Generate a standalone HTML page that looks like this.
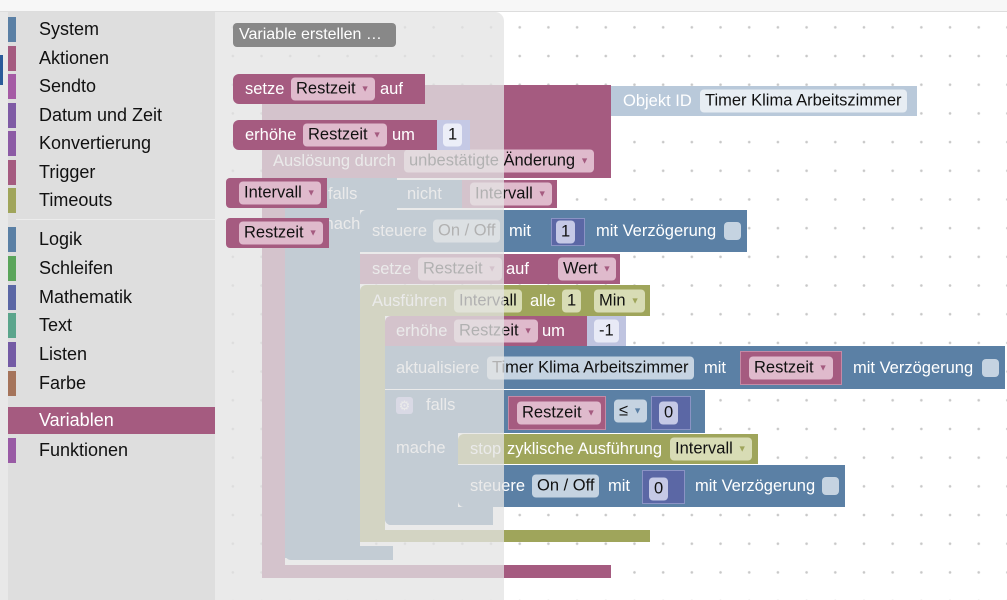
<!DOCTYPE html>
<html><head><meta charset="utf-8"><style>
*{margin:0;padding:0;box-sizing:border-box}
body{width:1007px;height:600px;overflow:hidden;position:relative;font-family:"Liberation Sans",sans-serif;background:#fff}
#ws{position:absolute;left:0;top:12px;width:1007px;height:588px;background-color:#fff;background-image:radial-gradient(circle,#c8c8c8 1px,transparent 1.6px);background-size:28.7px 28.7px;background-position:-11px 1px}
#top{position:absolute;left:0;top:0;width:1007px;height:12px;background:#f7f7f7;border-bottom:1px solid #ddd}
.b{position:absolute;color:#fff;font-size:16.5px;white-space:nowrap}
.t{position:absolute;top:50%;transform:translateY(-50%);line-height:18px}
.f{position:absolute;top:50%;transform:translateY(-50%);height:23px;line-height:23px;padding:0 5px;border-radius:4px;color:#111}
.f i{font-style:normal;font-size:9px;margin-left:5px;vertical-align:2px}
.pk{background:#a55b80}.bl{background:#5b80a5}.ol{background:#9fa55b}.dk{background:#5b67a5}
.fp{background:#dfbacc}.fp i{color:#a55b80}
.fb{background:#c5d3e1}.fb i{color:#5b80a5}
.fo{background:#d8dcb5}.fo i{color:#9fa55b}
.fd{background:#c5c9e6}
.cb{position:absolute;top:50%;transform:translateY(-50%);width:17px;height:18px;border-radius:4px;background:#c5d3e1}
#side{position:absolute;left:0;top:12px;width:215px;height:588px;background:#dedede}
#side .strip{position:absolute;left:0;top:0;width:8px;height:588px;background:#e8e8e8}
.it{position:absolute;left:8px;width:207px;height:27px;font-size:18px;color:#111;line-height:27px}
.it span{position:absolute;left:31px}
.it b{position:absolute;left:0;top:1px;width:8px;height:25px}
#ov{position:absolute;left:215px;top:12px;width:289px;height:588px;background:rgba(228,228,228,0.76);border-top-right-radius:9px}
</style></head><body>
<div id="ws"></div>
<div id="top"></div>

<div class="b pk" style="left:262px;top:85px;width:349px;height:93px;border-radius:6px 0 0 0">
 <span class="t" style="left:11px;top:76px">Auslösung durch</span>
 <span class="f fp" style="left:142px;top:76px">unbestätigte Änderung<i>▼</i></span>
</div>
<div class="b pk" style="left:262px;top:176px;width:23px;height:402px"></div>
<div class="b pk" style="left:262px;top:565px;width:349px;height:13px;border-radius:0 0 0 6px"></div>
<div class="b" style="left:611px;top:86px;width:306px;height:30px;background:#b9c9da">
 <span class="t" style="left:12px">Objekt ID</span>
 <span class="f" style="left:89px;background:#e7edf3">Timer Klima Arbeitszimmer</span>
</div>
<div class="b bl" style="left:285px;top:178px;width:112px;height:32px;border-radius:6px 0 0 0"><span class="t" style="left:43px">falls</span></div>
<div class="b bl" style="left:285px;top:208px;width:75px;height:350px"><span class="t" style="left:35px;top:16px">mache</span></div>
<div class="b bl" style="left:285px;top:546px;width:108px;height:14px;border-radius:0 0 0 6px"></div>
<div class="b bl" style="left:397px;top:180px;width:65px;height:28px"><span class="t" style="left:10px">nicht</span></div>
<div class="b pk" style="left:462px;top:180px;width:95px;height:28px"><span class="f fp" style="left:8px">Intervall<i>▼</i></span></div>

<div class="b bl" style="left:360px;top:210px;width:387px;height:42px;border-radius:6px 0 0 0">
 <span class="t" style="left:12px">steuere</span>
 <span class="f fb" style="left:73px">On / Off</span>
 <span class="t" style="left:149px">mit</span>
 <div class="b dk" style="left:191px;top:8px;width:34px;height:28px;border:1px solid #8a93c4"><span class="f fd" style="left:4px">1</span></div>
 <span class="t" style="left:236px">mit Verzögerung</span>
 <span class="cb" style="left:364px"></span>
</div>
<div class="b pk" style="left:360px;top:254px;width:192px;height:30px">
 <span class="t" style="left:12px">setze</span>
 <span class="f fp" style="left:58px">Restzeit<i>▼</i></span>
 <span class="t" style="left:146px">auf</span>
</div>
<div class="b pk" style="left:552px;top:254px;width:68px;height:30px"><span class="f fp" style="left:6px">Wert<i>▼</i></span></div>
<div class="b ol" style="left:360px;top:285px;width:290px;height:31px;border-radius:6px 0 0 0">
 <span class="t" style="left:12px">Ausführen</span>
 <span class="f fo" style="left:94px">Intervall</span>
 <span class="t" style="left:170px">alle</span>
 <span class="f fo" style="left:202px">1</span>
 <span class="f fo" style="left:234px">Min<i>▼</i></span>
</div>
<div class="b ol" style="left:360px;top:314px;width:25px;height:228px"></div>
<div class="b ol" style="left:360px;top:530px;width:290px;height:12px;border-radius:0 0 0 6px"></div>
<div class="b pk" style="left:385px;top:316px;width:202px;height:30px;border-radius:6px 0 0 0">
 <span class="t" style="left:11px">erhöhe</span>
 <span class="f fp" style="left:69px">Restzeit<i>▼</i></span>
 <span class="t" style="left:157px">um</span>
</div>
<div class="b" style="left:587px;top:316px;width:39px;height:30px;background:#bfc4e0"><span class="f" style="left:7px;background:#e8eaf6">-1</span></div>
<div class="b bl" style="left:385px;top:346px;width:620px;height:43px">
 <span class="t" style="left:11px">aktualisiere</span>
 <span class="f fb" style="left:102px">Timer Klima Arbeitszimmer</span>
 <span class="t" style="left:319px">mit</span>
 <div class="b pk" style="left:355px;top:5px;width:102px;height:34px;border:1px solid #c48aa6"><span class="f fp" style="left:8px">Restzeit<i>▼</i></span></div>
 <span class="t" style="left:468px">mit Verzögerung</span>
 <span class="cb" style="left:597px"></span>
</div>
<div class="b bl" style="left:385px;top:390px;width:320px;height:43px">
 <span style="position:absolute;left:11px;top:7px;width:17px;height:17px;border-radius:3px;background:#b9b9e8;color:#fff;font-size:13px;line-height:17px;text-align:center">⚙</span>
 <span class="t" style="left:41px;top:15px">falls</span>
 <div class="b pk" style="left:123px;top:6px;width:98px;height:34px;border:1px solid #c48aa6"><span class="f fp" style="left:8px">Restzeit<i>▼</i></span></div>
 <span class="f fb" style="left:229px;top:21px">≤<i>▼</i></span>
 <div class="b dk" style="left:266px;top:6px;width:40px;height:34px;border:1px solid #8a93c4"><span class="f fd" style="left:7px">0</span></div>
</div>
<div class="b bl" style="left:385px;top:431px;width:73px;height:94px;border-radius:0 0 0 6px"><span class="t" style="left:11px;top:17px">mache</span></div>
<div class="b bl" style="left:385px;top:507px;width:108px;height:18px;border-radius:0 0 0 6px"></div>
<div class="b ol" style="left:458px;top:434px;width:300px;height:30px;border-radius:6px 0 0 0">
 <span class="t" style="left:12px">stop</span>
 <span class="t" style="left:49px">zyklische Ausführung</span>
 <span class="f fo" style="left:212px">Intervall<i>▼</i></span>
</div>
<div class="b bl" style="left:458px;top:465px;width:387px;height:42px;border-radius:0 0 0 6px">
 <span class="t" style="left:12px">steuere</span>
 <span class="f fb" style="left:74px">On / Off</span>
 <span class="t" style="left:150px">mit</span>
 <div class="b dk" style="left:184px;top:5px;width:43px;height:34px;border:1px solid #8a93c4"><span class="f fd" style="left:6px;top:18px">0</span></div>
 <span class="t" style="left:237px">mit Verzögerung</span>
 <span class="cb" style="left:364px"></span>
</div>

<div id="ov"></div>

<div class="b" style="left:233px;top:23px;width:163px;height:24px;background:#888;border-radius:4px;font-size:16px"><span class="t" style="left:6px">Variable erstellen …</span></div>
<div class="b pk" style="left:233px;top:74px;width:192px;height:30px;border-radius:6px 0 0 6px">
 <span class="t" style="left:12px">setze</span>
 <span class="f fp" style="left:58px">Restzeit<i>▼</i></span>
 <span class="t" style="left:147px">auf</span>
</div>
<div class="b pk" style="left:233px;top:120px;width:204px;height:30px;border-radius:6px 0 0 6px">
 <span class="t" style="left:12px">erhöhe</span>
 <span class="f fp" style="left:70px">Restzeit<i>▼</i></span>
 <span class="t" style="left:159px">um</span>
</div>
<div class="b" style="left:437px;top:120px;width:33px;height:30px;background:#c5c9e5"><span class="f" style="left:6px;background:#eceef8">1</span></div>
<div class="b pk" style="left:226px;top:178px;width:101px;height:30px;border-radius:4px 0 0 4px"><span class="f fp" style="left:13px">Intervall<i>▼</i></span></div>
<div class="b pk" style="left:226px;top:218px;width:103px;height:30px;border-radius:4px 0 0 4px"><span class="f fp" style="left:13px">Restzeit<i>▼</i></span></div>

<div id="side"><div class="strip"></div><div style="position:absolute;left:0;top:43px;width:3px;height:30px;background:#2a5b9a"></div></div>
<div class="it" style="top:16px"><b style="background:#5b80a5"></b><span>System</span></div>
<div class="it" style="top:45px"><b style="background:#a55b80"></b><span>Aktionen</span></div>
<div class="it" style="top:73px"><b style="background:#a55ba5"></b><span>Sendto</span></div>
<div class="it" style="top:102px"><b style="background:#7f5ba5"></b><span>Datum und Zeit</span></div>
<div class="it" style="top:130px"><b style="background:#8c5ba5"></b><span>Konvertierung</span></div>
<div class="it" style="top:159px"><b style="background:#a55b80"></b><span>Trigger</span></div>
<div class="it" style="top:187px"><b style="background:#a0a55b"></b><span>Timeouts</span></div>
<div style="position:absolute;left:16px;top:219px;width:199px;height:1px;background:#ececec"></div>
<div class="it" style="top:226px"><b style="background:#5b80a5"></b><span>Logik</span></div>
<div class="it" style="top:255px"><b style="background:#5ba55b"></b><span>Schleifen</span></div>
<div class="it" style="top:284px"><b style="background:#5b67a5"></b><span>Mathematik</span></div>
<div class="it" style="top:312px"><b style="background:#5ba58c"></b><span>Text</span></div>
<div class="it" style="top:341px"><b style="background:#745ba5"></b><span>Listen</span></div>
<div class="it" style="top:370px"><b style="background:#a5745b"></b><span>Farbe</span></div>
<div class="it" style="top:407px;background:#a55b80;color:#fff"><b style="background:#a55b80"></b><span>Variablen</span></div>
<div class="it" style="top:437px"><b style="background:#995ba5"></b><span>Funktionen</span></div>
</body></html>
